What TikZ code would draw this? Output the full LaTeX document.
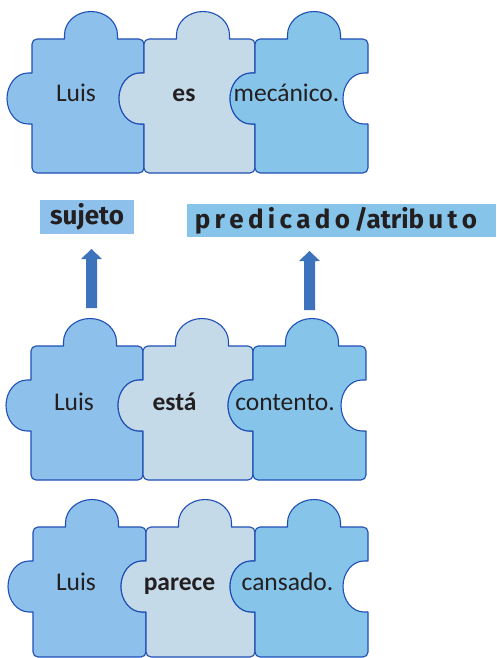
\documentclass[tikz,border=0pt]{standalone}
\usepackage{fontspec}
\setmainfont{Carlito}
\newfontfamily\labfont{Fira Sans}[BoldFont={Fira Sans Bold}]
\definecolor{pzone}{HTML}{8DC0EA}
\definecolor{pztwo}{HTML}{C5DAE9}
\definecolor{pzthree}{HTML}{86C5E9}
\definecolor{pzline}{HTML}{1F4FB5}
\definecolor{arrowblue}{HTML}{3D72BC}
\definecolor{txtdark}{HTML}{231F20}
\tikzset{
  piece/.style={draw=pzline, line width=1.1pt, line join=round},
  word/.style={text=txtdark, font=\fontsize{25.5}{30}\selectfont, anchor=base, inner sep=0pt},
  boldword/.style={word, font=\fontsize{25.5}{30}\selectfont\bfseries},
  labelbox/.style={inner sep=0pt, text=txtdark, font=\fontsize{26}{30}\labfont\bfseries},
  blockarrow/.style={fill=arrowblue, draw=none}
}
\newcommand\puzzlepiece[5]{%
  \pgfmathsetmacro\PZa{#1}\pgfmathsetmacro\PZb{#2}%
  \pgfmathsetmacro\PZt{-(#3)}\pgfmathsetmacro\PZu{-(#4)}%
  \pgfmathsetmacro\PZy{\PZt-59.5}%
  \pgfmathsetmacro\PZk{\PZa+59}%
  \filldraw[piece, fill=#5] (\PZa,\PZy+25.5) -- (\PZa-4,\PZy+25.5)
    arc[start angle=90,end angle=270,x radius=21,y radius=25.5]
    -- (\PZa,\PZy-25.5) -- (\PZa,\PZu+5)
    arc[start angle=180,end angle=270,radius=5]
    -- (\PZb-5,\PZu) arc[start angle=270,end angle=360,radius=5]
    -- (\PZb,\PZy-25.5) -- (\PZb-4,\PZy-25.5)
    arc[start angle=270,end angle=90,x radius=21,y radius=25.5]
    -- (\PZb,\PZy+25.5) -- (\PZb,\PZt-5)
    arc[start angle=0,end angle=90,radius=5]
    -- (\PZk+26.5,\PZt) -- (\PZk+26.5,\PZt+4)
    arc[start angle=0,end angle=180,x radius=26.5,y radius=23.5]
    -- (\PZk-26.5,\PZt) -- (\PZa+5,\PZt)
    arc[start angle=90,end angle=180,radius=5] -- cycle;
}
\newcommand\lgap{\kern4.3pt\relax}
\begin{document}
\begin{tikzpicture}[x=1pt,y=1pt]
\useasboundingbox (0,0) rectangle (496,-658);
% row 1
\puzzlepiece{32}{144}{39}{173}{pzone}
\puzzlepiece{144}{255}{39}{173}{pztwo}
\puzzlepiece{255}{368}{39}{173}{pzthree}
\node[word] (luisA) at (76,-102) {Luis};
\node[boldword] (es) at (184,-102) {es};
\node[word] (mecanico) at (286.5,-102) {mecánico.};
% labels
\node[labelbox, fill=pzone, minimum width=94, minimum height=34] (sujeto) at (87,-217) {sujeto};
\node[labelbox, fill=pzthree, minimum width=309, minimum height=33] (predicado) at (341.5,-220.5) {\hspace*{-11pt}p\lgap r\lgap e\lgap d\lgap i\lgap c\lgap a\lgap d\lgap o\lgap /atrib\lgap u\lgap t\lgap o};
% arrows
\fill[blockarrow] (86,-308) -- (86,-259) -- (81,-259) -- (91.5,-249) -- (102,-259) -- (97,-259) -- (97,-308) -- cycle;
\fill[blockarrow] (304,-310) -- (304,-261) -- (299,-261) -- (309.5,-251) -- (320,-261) -- (315,-261) -- (315,-310) -- cycle;
% row 2
\puzzlepiece{31}{143}{346}{480}{pzone}
\puzzlepiece{143}{253}{346}{480}{pztwo}
\puzzlepiece{253}{366}{346}{480}{pzthree}
\node[word] (luisB) at (74,-410) {Luis};
\node[boldword] (esta) at (174.5,-410) {está};
\node[word] (contento) at (285,-410) {contento.};
% row 3
\puzzlepiece{33}{146}{527}{657}{pzone}
\puzzlepiece{146}{255}{527}{657}{pztwo}
\puzzlepiece{255}{368}{527}{657}{pzthree}
\node[word] (luisC) at (76,-590) {Luis};
\node[boldword] (parece) at (179.5,-590) {parece};
\node[word] (cansado) at (287.5,-590) {cansado.};
\end{tikzpicture}
\end{document}
